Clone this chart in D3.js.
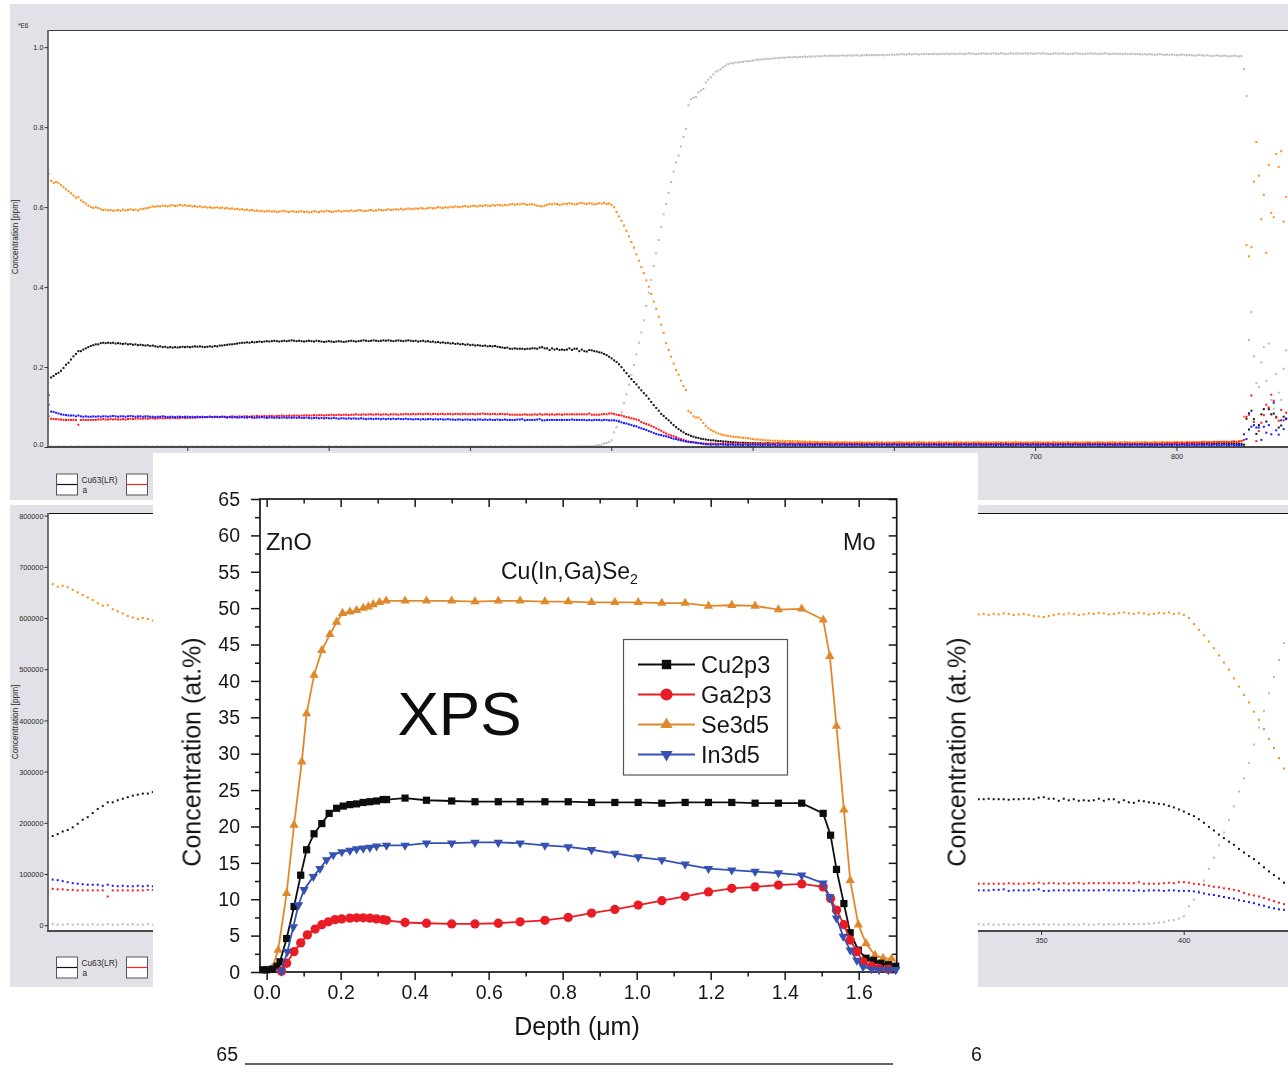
<!DOCTYPE html>
<html>
<head>
<meta charset="utf-8">
<title>CIGS depth profiles: SIMS and XPS</title>
<script src="https://cdn.jsdelivr.net/npm/d3@7/dist/d3.min.js"></script>
<style>
  html, body { margin: 0; padding: 0; background: #ffffff; }
  svg { display: block; }
</style>
</head>
<body>
<svg id="chart" width="1288" height="1066"></svg>
<script>
// ---------------- SIMS depth profile ----------------
// One value per sputter cycle, concentration in units of 1000 ppm.
const CYCLE_STEP = 1.755;   // sputtered depth per cycle
const FIRST_DEPTH = 1.5;    // depth of the first recorded cycle

const moK = [
  2,3,2,2,3,2,3,2,2,3,2,2,3,2,2,3,2,3,2,2,
  3,2,2,3,2,3,2,2,3,2,2,3,2,3,2,2,3,2,2,3,
  2,2,3,2,3,2,2,3,2,2,3,2,2,3,2,3,2,2,3,2,
  3,2,2,3,2,2,3,2,3,2,2,3,2,2,3,2,2,3,2,3,
  2,3,2,2,3,2,2,3,2,3,2,2,3,2,2,3,2,3,2,2,
  2,2,3,2,2,3,2,3,2,2,3,2,2,3,2,2,3,2,3,2,
  3,2,2,3,2,3,2,2,3,2,2,3,2,3,2,2,3,2,2,3,
  2,3,2,2,3,2,2,3,2,2,3,2,3,2,2,3,2,2,3,2,
  2,2,3,2,3,2,2,3,2,2,3,2,2,3,2,3,2,2,3,2,
  3,2,2,3,2,2,3,2,3,2,2,3,2,2,3,2,2,3,2,3,
  2,3,2,2,3,2,2,3,2,2,3,2,3,2,3,3,3,3,3,3,
  4,5,6,7,10,11,14,18,38,51,68,88,111,133,157,182,206,233,262,288,
  318,354,387,419,454,486,519,552,583,609,637,664,690,713,730,753,777,797,856,871,
  875,877,888,893,897,913,920,926,933,940,943,946,951,955,959,961,961,963,963,964,
  965,966,966,967,968,970,970,970,971,972,972,972,973,974,974,975,975,975,976,976,
  976,977,976,977,977,978,977,978,978,978,979,978,979,980,979,980,980,979,980,980,
  981,980,980,981,980,981,981,980,981,981,982,981,981,982,981,982,982,981,982,982,
  983,982,983,983,984,983,983,984,983,984,984,983,984,984,985,984,984,985,984,984,
  985,984,985,984,985,985,984,985,985,984,985,986,985,985,984,985,985,986,985,985,
  985,986,985,985,986,985,984,985,986,985,985,986,985,985,986,985,986,985,985,986,
  985,986,985,985,984,985,986,985,985,986,985,984,985,985,986,985,985,984,985,985,
  986,985,985,984,985,985,986,985,984,985,985,984,985,984,985,984,984,985,984,984,
  984,983,984,983,984,983,982,983,984,983,982,983,982,983,982,981,982,983,982,981,
  982,981,980,981,982,981,980,981,980,979,980,981,980,979,980,979,978,979,980,979,
  978,979,946,879,269,339,228,161,151,213,251,167,260,119,97,184,137,119,197,243
];

const cuK = [
  131,175,179,184,187,192,199,207,212,220,228,234,241,241,245,248,251,254,256,258,
  258,261,262,261,262,261,262,260,261,260,259,260,258,259,257,258,256,257,256,255,
  256,254,255,253,252,253,251,252,250,251,250,251,250,251,252,251,252,251,252,253,
  252,253,252,251,252,253,252,254,253,255,255,256,257,258,258,259,260,261,262,262,
  263,262,264,263,264,265,264,265,266,265,266,267,266,265,266,267,266,267,268,267,
  266,267,266,265,266,267,266,265,267,266,265,264,265,266,265,264,265,266,265,264,
  265,266,267,266,265,266,267,268,267,266,267,268,267,266,267,268,267,268,267,266,
  267,268,267,266,267,268,267,266,267,265,266,267,265,266,264,265,263,264,262,263,
  261,262,260,261,259,260,258,259,257,258,256,257,255,256,255,254,255,253,254,253,
  254,252,251,250,249,250,247,247,248,247,247,247,246,247,247,248,248,247,250,251,
  248,248,244,248,245,247,244,245,244,245,248,244,247,247,241,245,241,240,244,243,
  241,240,238,237,234,231,227,223,218,214,208,201,193,186,178,171,164,158,150,143,
  136,130,122,114,106,99,92,84,79,73,68,62,56,51,46,42,38,34,32,29,
  27,25,24,22,21,20,19,18,18,17,16,16,15,15,14,14,13,13,12,12,
  12,12,11,11,11,11,10,11,10,10,11,10,10,10,11,10,10,10,9,10,
  10,9,10,10,9,10,10,9,10,9,10,10,9,10,9,10,10,9,10,9,
  9,10,9,9,10,9,10,9,9,10,9,9,10,9,9,10,9,10,9,9,
  10,9,9,10,9,9,10,9,9,9,10,9,9,10,9,9,9,10,9,9,
  9,9,10,9,9,9,10,9,9,10,9,9,9,10,9,9,10,9,9,9,
  9,10,9,9,9,10,9,9,10,9,9,9,10,9,9,9,10,9,9,10,
  9,9,9,10,9,9,9,10,9,9,10,9,9,9,10,9,9,9,10,9,
  9,10,9,9,10,9,9,9,10,9,9,10,9,9,9,10,9,9,10,9,
  9,9,10,9,9,10,9,9,9,10,9,10,9,9,10,9,10,9,9,10,
  10,9,9,10,9,10,9,10,10,9,10,9,10,10,9,10,9,10,10,9,
  9,9,7,72,45,92,71,34,56,83,96,65,96,83,85,75,50,55,77,71
];

const seK = [
  685,667,662,664,661,656,651,646,641,636,630,625,626,618,614,610,605,602,599,601,
  599,596,594,595,593,594,592,593,594,592,595,593,594,596,594,595,593,596,597,598,
  599,601,603,602,604,603,605,604,603,605,606,604,605,607,605,606,604,605,603,604,
  602,603,601,602,600,601,599,600,601,599,600,598,599,597,598,596,597,595,596,594,
  595,593,594,592,593,591,592,590,591,592,590,591,589,590,591,592,590,589,591,590,
  589,590,591,589,590,588,589,591,590,589,591,590,592,591,589,590,591,592,590,591,
  592,591,593,591,592,594,593,591,592,593,594,592,593,595,594,593,594,596,594,595,
  596,595,597,595,596,598,597,596,598,597,599,598,597,599,600,598,599,601,600,599,
  601,600,602,601,603,602,601,603,604,602,603,605,604,603,605,604,606,605,604,606,
  605,607,606,605,607,606,608,609,607,609,608,610,609,607,608,609,607,605,604,603,
  605,607,609,608,610,609,607,608,610,609,611,610,608,609,611,612,610,609,611,610,
  608,609,611,610,612,609,610,607,601,589,578,567,555,542,528,514,500,483,467,451,
  436,418,402,384,365,347,327,307,287,261,244,227,210,194,182,167,154,144,91,87,
  78,75,75,70,61,54,48,44,41,38,35,33,31,30,29,28,27,26,26,25,
  24,24,23,22,21,20,20,19,19,18,18,17,17,17,17,16,17,16,16,16,
  16,15,16,15,15,15,14,15,14,14,14,13,14,14,13,14,13,13,14,13,
  13,14,13,13,12,13,13,14,13,12,13,13,12,13,14,13,13,12,13,13,
  12,13,13,14,13,12,13,13,12,13,13,14,13,13,12,13,13,12,13,14,
  13,12,13,13,12,13,14,13,13,12,13,13,12,13,13,14,13,12,13,13,
  12,13,13,14,13,12,13,13,12,13,14,13,13,12,13,13,12,13,14,13,
  13,12,13,13,12,14,13,13,12,13,13,14,13,12,13,13,12,13,13,14,
  13,12,13,14,13,13,12,13,13,14,13,12,13,13,14,13,13,12,13,14,
  13,13,14,13,12,13,14,13,13,14,13,14,13,13,14,14,13,14,13,14,
  14,13,14,14,13,14,15,14,13,14,15,14,14,15,14,15,14,15,15,14,
  15,16,77,506,478,501,665,764,680,571,632,487,707,587,576,734,702,741,565,627
];

const gaK = [
  78,72,71,71,70,70,69,69,69,69,69,69,57,69,69,69,69,69,69,69,
  70,70,71,70,70,71,70,71,70,70,71,70,71,72,71,72,73,72,72,73,
  72,73,73,72,73,74,73,73,74,73,74,74,73,74,75,74,74,75,74,75,
  75,76,75,76,76,77,76,76,77,76,77,77,76,77,78,77,77,78,77,78,
  78,77,78,78,79,78,78,79,78,79,79,78,79,79,80,79,79,80,79,80,
  80,79,80,80,81,80,80,81,80,81,81,80,81,81,82,81,81,82,81,82,
  82,81,82,82,83,82,82,83,82,83,83,82,83,83,82,83,83,82,83,83,
  83,82,83,83,84,83,83,84,83,84,84,83,84,84,83,84,84,83,84,84,
  83,84,84,83,84,84,83,84,84,83,84,84,83,84,84,85,84,84,83,84,
  84,83,84,84,83,84,82,82,82,82,82,82,83,82,82,82,83,82,84,82,
  83,83,82,83,82,83,83,82,83,83,83,83,83,83,83,83,83,83,85,82,
  82,82,82,83,84,83,85,85,84,82,81,80,78,76,75,73,72,70,68,64,
  61,59,57,54,51,48,45,42,38,35,32,30,28,26,23,21,19,17,15,14,
  13,12,11,11,10,10,9,10,9,10,9,9,10,9,10,9,9,10,9,9,
  9,10,9,9,10,9,10,9,9,10,9,10,9,9,10,9,9,10,9,10,
  9,9,10,9,10,9,9,10,9,9,10,9,10,9,9,10,9,9,10,9,
  10,9,9,10,9,10,9,9,10,9,9,10,9,10,9,9,10,9,9,10,
  9,10,9,9,10,9,9,10,9,10,9,9,10,9,9,10,9,10,9,9,
  10,9,10,9,9,10,9,9,10,9,10,9,9,10,9,10,9,9,10,9,
  9,9,10,9,10,9,10,9,9,10,9,9,10,9,10,9,9,10,9,10,
  9,10,9,10,9,9,10,9,10,9,9,10,9,9,10,9,10,9,9,10,
  10,9,9,10,9,10,9,10,9,9,10,9,10,9,9,10,9,10,9,9,
  9,10,9,10,10,9,10,10,9,10,10,10,11,10,11,11,10,11,11,12,
  11,12,12,11,12,13,12,12,13,12,13,13,14,13,14,14,13,14,15,14,
  15,16,19,77,82,130,64,16,41,62,81,107,100,132,117,77,67,94,68,87
];

const inK = [
  107,90,89,87,85,83,82,81,80,80,80,78,80,78,77,78,77,77,78,77,
  78,77,78,78,77,78,79,78,77,78,78,77,78,79,78,77,78,78,77,78,
  78,77,77,76,77,77,78,77,76,77,77,76,77,77,76,77,77,76,77,76,
  77,76,77,76,76,77,76,77,76,76,77,76,75,76,75,76,75,75,76,75,
  75,76,75,74,75,75,76,75,74,75,75,74,75,74,75,75,74,75,74,75,
  74,75,74,74,75,74,73,74,74,73,74,73,74,73,73,74,73,72,73,73,
  72,73,72,73,72,72,73,72,71,72,72,71,72,72,71,72,71,72,71,72,
  71,72,71,71,72,71,71,70,71,71,70,71,70,71,71,70,71,70,71,70,
  70,71,70,70,69,70,70,69,70,70,69,70,69,70,70,69,70,69,70,69,
  69,70,69,69,70,69,69,69,69,70,70,71,68,69,69,69,69,70,71,68,
  68,69,69,69,69,69,69,69,69,69,69,70,69,69,69,69,69,68,69,68,
  69,69,69,68,69,69,68,68,68,67,65,63,61,60,58,56,54,53,50,48,
  46,44,41,39,36,34,32,31,29,28,26,24,22,21,19,18,16,15,14,13,
  13,12,11,10,9,8,8,7,8,7,7,8,7,7,6,7,7,6,7,6,
  6,7,6,6,7,6,7,6,6,7,6,6,7,6,5,6,7,6,6,7,
  6,6,7,6,6,5,6,7,6,6,7,6,6,7,6,6,5,6,7,6,
  7,6,6,7,6,6,7,6,5,6,6,7,6,6,7,6,6,7,6,6,
  6,7,6,6,5,6,7,6,6,7,6,6,7,6,6,5,6,7,6,6,
  6,6,7,6,7,6,6,5,6,7,6,6,7,6,6,7,6,6,5,6,
  7,6,6,7,6,6,7,6,6,5,6,7,6,6,7,6,6,7,6,6,
  6,7,6,6,7,6,5,6,7,6,6,7,6,6,7,6,6,5,6,7,
  6,6,7,6,6,7,6,6,7,6,5,6,7,6,6,7,6,6,7,6,
  7,6,6,7,6,6,5,6,7,6,6,7,6,6,7,6,6,7,6,6,
  6,7,6,6,7,6,6,7,6,6,7,6,5,6,7,6,6,7,6,6,
  6,6,33,21,86,52,56,50,50,19,52,37,56,33,112,43,32,68,46,73
];

// Tick values for the two SIMS views
const simsTopYTicks = [0, 0.2, 0.4, 0.6, 0.8, 1.0];
const simsTopXTicks = [100, 200, 300, 400, 500, 600, 700, 800];
const simsBotYTicks = [0, 100000, 200000, 300000, 400000, 500000, 600000, 700000, 800000];
const simsBotXTicks = [50, 100, 150, 200, 250, 300, 350, 400];

// ---------------- XPS depth profile (at.%) ----------------
const cuDepth = [-0.010,0.000,0.015,0.028,0.036,0.054,0.074,0.092,0.108,0.128,0.149,0.169,0.189,0.207,0.225,0.243,0.261,0.279,0.297,0.315,0.324,0.374,0.432,0.500,0.563,0.626,0.685,0.752,0.815,0.878,0.941,1.004,1.068,1.131,1.194,1.257,1.320,1.383,1.446,1.504,1.524,1.540,1.560,1.577,1.599,1.620,1.640,1.660,1.680,1.700];
const cuConc  = [0.3,0.3,0.4,0.8,1.4,4.6,9.0,13.3,16.8,19.0,20.4,21.8,22.5,22.8,23.0,23.1,23.3,23.4,23.5,23.7,23.7,23.9,23.6,23.5,23.4,23.4,23.4,23.4,23.4,23.3,23.3,23.3,23.2,23.3,23.3,23.3,23.2,23.2,23.2,21.8,18.8,14.1,9.4,5.4,3.0,1.9,1.6,1.2,1.0,0.8];

const gaDepth = [0.040,0.054,0.074,0.092,0.110,0.131,0.149,0.167,0.185,0.203,0.225,0.243,0.261,0.279,0.297,0.315,0.324,0.374,0.432,0.500,0.563,0.626,0.685,0.752,0.815,0.878,0.941,1.004,1.068,1.131,1.194,1.257,1.320,1.383,1.446,1.504,1.524,1.540,1.560,1.577,1.595,1.612,1.635,1.655,1.680];
const gaConc  = [0.1,1.2,2.8,4.0,5.1,5.9,6.5,6.9,7.2,7.3,7.4,7.45,7.45,7.4,7.3,7.2,7.1,6.8,6.7,6.6,6.6,6.7,6.9,7.1,7.5,8.1,8.6,9.2,9.8,10.4,11.0,11.5,11.7,11.95,12.1,11.7,10.1,8.5,6.5,4.4,2.8,1.4,0.8,0.5,0.4];

const seDepth = [0.000,0.015,0.031,0.054,0.074,0.095,0.108,0.128,0.149,0.171,0.189,0.205,0.225,0.243,0.261,0.275,0.288,0.305,0.323,0.374,0.432,0.500,0.563,0.626,0.685,0.752,0.815,0.878,0.941,1.004,1.068,1.131,1.194,1.257,1.320,1.383,1.446,1.504,1.522,1.540,1.560,1.577,1.599,1.620,1.644,1.666,1.689];
const seConc  = [0.2,0.5,3.0,10.8,20.2,28.9,35.5,40.8,44.2,46.4,48.1,49.3,49.5,49.7,50.0,50.2,50.5,50.8,51.0,51.0,51.0,51.0,50.9,51.0,51.0,50.9,50.9,50.8,50.8,50.8,50.7,50.7,50.3,50.4,50.3,49.8,49.9,48.4,43.4,33.8,22.3,12.6,6.5,3.9,2.3,1.9,1.8];

const inDepth = [0.040,0.056,0.072,0.086,0.101,0.126,0.144,0.162,0.180,0.203,0.225,0.243,0.261,0.279,0.297,0.324,0.374,0.432,0.500,0.563,0.626,0.685,0.752,0.815,0.878,0.941,1.004,1.068,1.131,1.194,1.257,1.320,1.383,1.446,1.504,1.522,1.540,1.558,1.577,1.595,1.612,1.635,1.655,1.680,1.700];
const inConc  = [0.1,2.8,6.2,9.2,11.3,13.1,14.2,15.4,16.1,16.5,16.7,16.9,17.0,17.1,17.3,17.4,17.4,17.7,17.7,17.8,17.8,17.7,17.4,17.2,16.8,16.3,15.8,15.4,14.8,14.2,14.0,13.8,13.6,13.3,12.2,10.3,7.4,4.9,3.0,1.6,0.7,0.4,0.3,0.3,0.3];

const xpsXMajor = [0, 0.2, 0.4, 0.6, 0.8, 1.0, 1.2, 1.4, 1.6];
const xpsXMinor = [0.1, 0.3, 0.5, 0.7, 0.9, 1.1, 1.3, 1.5];
const xpsYMajor = [0, 5, 10, 15, 20, 25, 30, 35, 40, 45, 50, 55, 60, 65];
const xpsYMinor = [2.5, 7.5, 12.5, 17.5, 22.5, 27.5, 32.5, 37.5, 42.5, 47.5, 52.5, 57.5, 62.5];

// =====================================================================
const FONT = "'Liberation Sans', Arial, Helvetica, sans-serif";
const svg = d3.select("#chart");

const defs = svg.append("defs");
defs.append("filter").attr("id", "soft").attr("x", "-2%").attr("y", "-2%").attr("width", "104%").attr("height", "104%")
  .append("feGaussianBlur").attr("stdDeviation", 0.45);

const simsSeries = [
  { key: "Mo", color: "#bcbcbc", values: moK },
  { key: "Cu", color: "#141414", values: cuK },
  { key: "Se", color: "#ff8a14", values: seK },
  { key: "Ga", color: "#ff1a1a", values: gaK },
  { key: "In", color: "#1a1aff", values: inK }
];

function drawSims(cfg) {
  const g = svg.append("g").attr("font-family", FONT);
  g.append("rect").attr("x", cfg.bg[0]).attr("y", cfg.bg[1])
    .attr("width", cfg.bg[2]).attr("height", cfg.bg[3]).attr("fill", "#e1e1e7");
  g.append("rect").attr("x", cfg.left).attr("y", cfg.top)
    .attr("width", cfg.right - cfg.left).attr("height", cfg.bottom - cfg.top).attr("fill", "#ffffff");

  const x = d3.scaleLinear().domain(cfg.xDomain).range([cfg.left, cfg.right]);
  const y = d3.scaleLinear().domain(cfg.yDomain).range(cfg.yRange);

  const clipId = "clip-" + cfg.id;
  g.append("clipPath").attr("id", clipId).append("rect")
    .attr("x", cfg.left).attr("y", cfg.top)
    .attr("width", cfg.right - cfg.left).attr("height", cfg.bottom - cfg.top);

  const dots = g.append("g").attr("clip-path", `url(#${clipId})`);
  simsSeries.forEach(s => {
    dots.append("g").attr("fill", s.color)
      .selectAll("rect").data(s.values).join("rect")
      .attr("x", (v, i) => x(FIRST_DEPTH + i * CYCLE_STEP) - 1)
      .attr("y", v => y(v * cfg.unit) - 1)
      .attr("width", 2).attr("height", 2);
  });

  // frame
  g.append("line").attr("x1", cfg.left).attr("x2", cfg.right).attr("y1", cfg.top + 0.5).attr("y2", cfg.top + 0.5)
    .attr("stroke", cfg.topColor).attr("stroke-width", 1);
  g.append("line").attr("x1", cfg.left).attr("x2", cfg.left).attr("y1", cfg.top).attr("y2", cfg.bottom + 1)
    .attr("stroke", "#707070").attr("stroke-width", 2);
  g.append("line").attr("x1", cfg.left - 1).attr("x2", cfg.right).attr("y1", cfg.bottom).attr("y2", cfg.bottom)
    .attr("stroke", "#4a4a4a").attr("stroke-width", 2);

  // y ticks
  cfg.yTicks.forEach(t => {
    const yy = y(t);
    g.append("line").attr("x1", cfg.left - 3.5).attr("x2", cfg.left).attr("y1", yy).attr("y2", yy)
      .attr("stroke", "#333").attr("stroke-width", 1);
    g.append("text").attr("x", cfg.left - 4.5).attr("y", Math.min(yy, cfg.bottom - 3) + 2.6)
      .attr("text-anchor", "end").attr("font-size", 7.3).attr("fill", "#2a2a2a")
      .text(cfg.yFormat(t));
  });
  // x ticks
  cfg.xTicks.forEach(t => {
    const xx = x(t);
    g.append("line").attr("x1", xx).attr("x2", xx).attr("y1", cfg.bottom).attr("y2", cfg.bottom + 4)
      .attr("stroke", "#333").attr("stroke-width", 1);
    g.append("text").attr("x", xx).attr("y", cfg.bottom + 11.5)
      .attr("text-anchor", "middle").attr("font-size", 7.3).attr("fill", "#2a2a2a")
      .text(t);
  });

  // y title
  g.append("text").attr("transform", `translate(${cfg.titleX},${cfg.titleY}) rotate(-90)`)
    .attr("text-anchor", "middle").attr("font-size", 8.3).attr("fill", "#2a2a2a")
    .text("Concentration [ppm]");
  if (cfg.exponent) {
    g.append("text").attr("x", 18).attr("y", 28).attr("font-size", 6.5).attr("fill", "#2a2a2a").text(cfg.exponent);
  }

  // legend
  const ly = cfg.legendY;
  const items = [{ color: "#111", label: "Cu63(LR)", sub: "a", x: 56 }, { color: "#ff2020", label: "", sub: "", x: 126 }];
  items.forEach(it => {
    g.append("rect").attr("x", it.x + 0.5).attr("y", ly + 0.5).attr("width", 21).attr("height", 21)
      .attr("fill", "#ffffff").attr("stroke", "#555").attr("stroke-width", 1);
    g.append("line").attr("x1", it.x + 1).attr("x2", it.x + 21).attr("y1", ly + 11).attr("y2", ly + 11)
      .attr("stroke", it.color).attr("stroke-width", 1.2);
    if (it.label) {
      g.append("text").attr("x", it.x + 25.5).attr("y", ly + 9).attr("font-size", 8.3).attr("fill", "#2a2a2a").text(it.label);
      g.append("text").attr("x", it.x + 26.5).attr("y", ly + 19.5).attr("font-size", 8.3).attr("fill", "#2a2a2a").text(it.sub);
    }
  });
}

// upper SIMS view: full profile, concentration in 1e6 ppm
drawSims({
  id: "top", bg: [10, 4, 1290, 496],
  left: 48, right: 1300, top: 30, bottom: 447,
  xDomain: [1.06, 887.05], yDomain: [0, 1], yRange: [447.5, 47.7],
  unit: 0.001, yTicks: simsTopYTicks, xTicks: simsTopXTicks,
  yFormat: d3.format(".1f"), exponent: "*E6",
  titleX: 18, titleY: 237, legendY: 473.5, topColor: "#3c3c3c"
});

// lower SIMS view: absorber and back contact, ppm
drawSims({
  id: "bottom", bg: [10, 505, 1290, 482],
  left: 48, right: 1300, top: 513, bottom: 931,
  xDomain: [1.613, 440.6], yDomain: [0, 800000], yRange: [925.7, 516.1],
  unit: 1000, yTicks: simsBotYTicks, xTicks: simsBotXTicks,
  yFormat: d => String(d), exponent: null,
  titleX: 18, titleY: 722, legendY: 956.5, topColor: "#111"
});

// ---------------- XPS panel ----------------
svg.append("rect").attr("x", 153).attr("y", 453).attr("width", 825).attr("height", 613).attr("fill", "#ffffff");
const xp = svg.append("g").attr("font-family", FONT).attr("filter", "url(#soft)");

const X0 = 260, X1 = 896.7, Y0 = 972, Y1 = 499;
const xs = d3.scaleLinear().domain([-0.018, 1.7027]).range([X0, X1]);
const ys = d3.scaleLinear().domain([0, 65]).range([Y0, Y1]);

const ink = "#161616";
function styleAxis(sel, fontSize) {
  sel.select(".domain").remove();
  sel.selectAll(".tick line").attr("stroke", ink).attr("stroke-width", 1.5);
  sel.selectAll(".tick text").attr("fill", ink).attr("font-size", fontSize).attr("font-family", FONT);
}

// bottom (outward), top (inward)
xp.append("g").attr("transform", `translate(0,${Y0})`)
  .call(d3.axisBottom(xs).tickValues(xpsXMajor).tickSize(8).tickPadding(5).tickFormat(d3.format(".1f")))
  .call(s => styleAxis(s, 19.5));
xp.append("g").attr("transform", `translate(0,${Y0})`)
  .call(d3.axisBottom(xs).tickValues(xpsXMinor).tickSize(4.5).tickFormat(""))
  .call(s => styleAxis(s, 19.5));
xp.append("g").attr("transform", `translate(0,${Y1})`)
  .call(d3.axisTop(xs).tickValues(xpsXMajor).tickSize(-8).tickFormat(""))
  .call(s => styleAxis(s, 19.5));
xp.append("g").attr("transform", `translate(0,${Y1})`)
  .call(d3.axisTop(xs).tickValues(xpsXMinor).tickSize(-4.5).tickFormat(""))
  .call(s => styleAxis(s, 19.5));
// left (outward), right (inward)
xp.append("g").attr("transform", `translate(${X0},0)`)
  .call(d3.axisLeft(ys).tickValues(xpsYMajor).tickSize(9).tickPadding(11).tickFormat(d3.format("d")))
  .call(s => styleAxis(s, 19.5));
xp.append("g").attr("transform", `translate(${X0},0)`)
  .call(d3.axisLeft(ys).tickValues(xpsYMinor).tickSize(5).tickFormat(""))
  .call(s => styleAxis(s, 19.5));
xp.append("g").attr("transform", `translate(${X1},0)`)
  .call(d3.axisRight(ys).tickValues(xpsYMajor).tickSize(-8).tickFormat(""))
  .call(s => styleAxis(s, 19.5));
xp.append("g").attr("transform", `translate(${X1},0)`)
  .call(d3.axisRight(ys).tickValues(xpsYMinor).tickSize(-4.5).tickFormat(""))
  .call(s => styleAxis(s, 19.5));

xp.append("rect").attr("x", X0).attr("y", Y1).attr("width", X1 - X0).attr("height", Y0 - Y1)
  .attr("fill", "none").attr("stroke", ink).attr("stroke-width", 1.7);

// axis titles
xp.append("text").attr("transform", "translate(200.5,752) rotate(-90)")
  .attr("text-anchor", "middle").attr("font-size", 25).attr("fill", ink).text("Concentration (at.%)");
xp.append("text").attr("x", 577).attr("y", 1034.5).attr("text-anchor", "middle")
  .attr("font-size", 25).attr("fill", ink).text("Depth (μm)");

// annotations
xp.append("text").attr("x", 459.5).attr("y", 735).attr("text-anchor", "middle")
  .attr("font-size", 62).attr("fill", "#0c0c0c").text("XPS");
xp.append("text").attr("x", 266).attr("y", 550).attr("font-size", 23.5).attr("fill", ink).text("ZnO");
xp.append("text").attr("x", 843).attr("y", 550).attr("font-size", 23.5).attr("fill", ink).text("Mo");
const cigs = xp.append("text").attr("x", 501).attr("y", 578.5).attr("font-size", 23).attr("fill", ink);
cigs.append("tspan").text("Cu(In,Ga)Se");
cigs.append("tspan").attr("dy", 5).attr("font-size", 14).text("2");

// series
const xpsSeries = [
  { name: "Se3d5", color: "#e0892b", depth: seDepth, conc: seConc, symbol: d3.symbolTriangle, size: 38, rot: 0 },
  { name: "Cu2p3", color: "#111111", depth: cuDepth, conc: cuConc, symbol: d3.symbolSquare, size: 52, rot: 0 },
  { name: "Ga2p3", color: "#e91e27", depth: gaDepth, conc: gaConc, symbol: d3.symbolCircle, size: 68, rot: 0 },
  { name: "In3d5", color: "#3451b2", depth: inDepth, conc: inConc, symbol: d3.symbolTriangle, size: 38, rot: 180 }
];
const line = d3.line().x(d => xs(d[0])).y(d => ys(d[1]));
xpsSeries.forEach(s => {
  const pts = s.depth.map((d, i) => [d, s.conc[i]]);
  const sg = xp.append("g");
  sg.append("path").attr("d", line(pts)).attr("fill", "none").attr("stroke", s.color).attr("stroke-width", 1.8);
  sg.selectAll("path.m").data(pts).join("path").attr("class", "m")
    .attr("transform", d => `translate(${xs(d[0])},${ys(d[1])}) rotate(${s.rot})`)
    .attr("d", d3.symbol().type(s.symbol).size(s.size)())
    .attr("fill", s.color);
});

// legend
const legendOrder = ["Cu2p3", "Ga2p3", "Se3d5", "In3d5"];
xp.append("rect").attr("x", 623.5).attr("y", 639.5).attr("width", 164).attr("height", 135.5)
  .attr("fill", "#ffffff").attr("stroke", "#555").attr("stroke-width", 1.2);
legendOrder.forEach((name, k) => {
  const s = xpsSeries.find(t => t.name === name);
  const yy = 664.5 + k * 30;
  xp.append("line").attr("x1", 638).attr("x2", 695).attr("y1", yy).attr("y2", yy)
    .attr("stroke", s.color).attr("stroke-width", 1.8);
  xp.append("path").attr("transform", `translate(666.5,${yy}) rotate(${s.rot})`)
    .attr("d", d3.symbol().type(s.symbol).size(s.size * 1.7)()).attr("fill", s.color);
  xp.append("text").attr("x", 701).attr("y", yy + 8.5).attr("font-size", 23.5).attr("fill", ink).text(name);
});

// neighbouring copies of the XPS figure peeking in at the edges
xp.append("text").attr("transform", "translate(965.5,752) rotate(-90)")
  .attr("text-anchor", "middle").attr("font-size", 25).attr("fill", ink).text("Concentration (at.%)");
xp.append("text").attr("x", 238).attr("y", 1061).attr("text-anchor", "end")
  .attr("font-size", 19.5).attr("fill", ink).text("65");
xp.append("line").attr("x1", 245).attr("x2", 893).attr("y1", 1064).attr("y2", 1064)
  .attr("stroke", "#333").attr("stroke-width", 1.5);
xp.append("text").attr("x", 971).attr("y", 1061).attr("font-size", 19.5).attr("fill", ink).text("6");
</script>
</body>
</html>
